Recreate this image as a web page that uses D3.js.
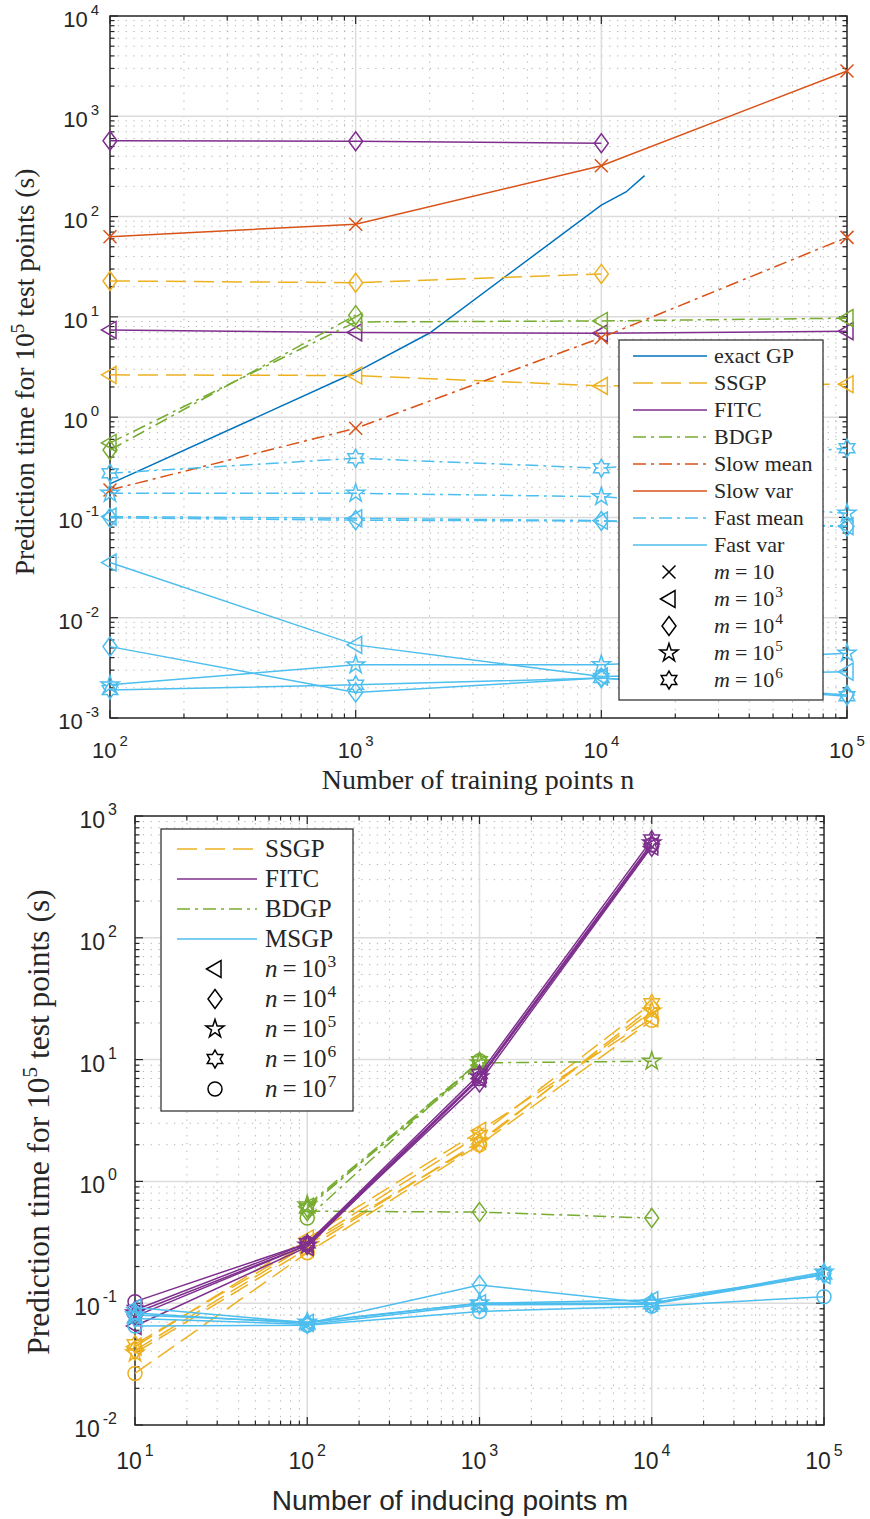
<!DOCTYPE html>
<html>
<head>
<meta charset="utf-8">
<script src="https://cdn.jsdelivr.net/npm/d3@7"></script>
<style>
  body { margin: 0; background: #fff; }
  text { fill: #262626; }
  .serif { font-family: 'Liberation Serif', 'Times New Roman', serif; }
  .sans { font-family: 'Liberation Sans', Arial, Helvetica, sans-serif; }
</style>
</head>
<body>
<svg id="fig" width="870" height="1519"></svg>
<script>
// ---------------- Top panel: prediction time vs. number of training points n ----------------
const trainN = [1e2, 1e3, 1e4, 1e5];

// exact GP (no markers, denser sampling in n)
const exactN = [100, 1000, 2000, 10000, 12600, 15000];
const exactT = [0.216, 2.8, 6.9, 130, 176, 256];

// per-method timings at n = 1e2, 1e3, 1e4, 1e5 (null = not run)
const ssgpM3     = [2.64, 2.60, 2.05, 2.13];
const ssgpM4     = [22.8, 21.9, 26.8, null];
const fitcM3     = [7.4, 7.0, 6.86, 7.2];
const fitcM4     = [571, 563, 538, null];
const bdgpM3     = [0.553, 8.9, 9.1, 9.7];
const bdgpM4     = [0.47, 10.4, null, null];
const slowMeanM1 = [0.188, 0.774, 6.2, 62];
const slowVarM1  = [63, 84, 321, 2830];
const fastMeanM3 = [0.102, 0.098, 0.093, 0.082];
const fastMeanM4 = [0.099, 0.094, 0.092, 0.081];
const fastMeanM5 = [0.174, 0.174, 0.161, 0.11];
const fastMeanM6 = [0.276, 0.389, 0.31, 0.49];
const fastVarM3  = [0.0355, 0.00536, 0.0026, 0.0029];
const fastVarM4  = [0.00515, 0.0018, 0.0025, 0.0017];
const fastVarM5  = [0.00214, 0.00339, 0.0034, 0.00443];
const fastVarM6  = [0.0019, 0.00214, 0.0025, 0.00165];

const topLegendMethods = ["exact GP", "SSGP", "FITC", "BDGP", "Slow mean", "Slow var", "Fast mean", "Fast var"];
const topLegendM = ["10", "3", "4", "5", "6"];

// ---------------- Bottom panel: prediction time vs. number of inducing points m ----------------
const inducingM = [1e1, 1e2, 1e3, 1e4, 1e5];

const ssgpN3 = [0.044, 0.34, 2.6, 21.9, null];
const ssgpN4 = [0.041, 0.30, 2.05, 26.8, null];
const ssgpN5 = [0.039, 0.28, 2.13, 25, null];
const ssgpN6 = [0.046, 0.31, 2.4, 29, null];
const ssgpN7 = [0.0265, 0.26, 2.0, 21, null];

const fitcN3 = [0.065, 0.29, 7.0, 563, null];
const fitcN4 = [0.078, 0.30, 6.5, 560, null];
const fitcN5 = [0.083, 0.30, 7.2, 600, null];
const fitcN6 = [0.088, 0.31, 7.6, 640, null];
const fitcN7 = [0.103, 0.31, 7.0, 580, null];

const bdgpN3 = [null, 0.62, 9.0, null, null];
const bdgpN4 = [null, 0.57, 0.56, 0.50, null];
const bdgpN5 = [null, 0.64, 9.4, 9.7, null];
const bdgpN6 = [null, 0.60, 9.7, null, null];
const bdgpN7 = [null, 0.50, 9.8, null, null];

const msgpN3 = [0.092, 0.069, 0.10, 0.106, 0.17];
const msgpN4 = [0.083, 0.068, 0.141, 0.10, 0.175];
const msgpN5 = [0.080, 0.070, 0.10, 0.10, 0.18];
const msgpN6 = [0.075, 0.067, 0.097, 0.098, 0.172];
const msgpN7 = [0.065, 0.066, 0.0855, 0.0946, 0.113];

const botLegendMethods = ["SSGP", "FITC", "BDGP", "MSGP"];
const botLegendN = ["3", "4", "5", "6", "7"];

// ---------------- styles ----------------
const COL = { blue: "#0072BD", orange: "#D95319", yellow: "#EDB120", purple: "#7E2F8E", green: "#77AC30", cyan: "#4DBEEE" };
const DASH = { solid: null, dashed: "20,8", dashdot: "13,5,3,5" };
const AXIS = "#262626";

const methodStyle = {
  exact:    { color: COL.blue,   dash: "solid" },
  ssgp:     { color: COL.yellow, dash: "dashed" },
  fitc:     { color: COL.purple, dash: "solid" },
  bdgp:     { color: COL.green,  dash: "dashdot" },
  slowMean: { color: COL.orange, dash: "dashdot" },
  slowVar:  { color: COL.orange, dash: "solid" },
  fastMean: { color: COL.cyan,   dash: "dashdot" },
  fastVar:  { color: COL.cyan,   dash: "solid" },
  msgp:     { color: COL.cyan,   dash: "solid" }
};

function starPath(points, R, r) {
  const p = d3.path();
  for (let i = 0; i < points * 2; i++) {
    const a = -Math.PI / 2 + i * Math.PI / points;
    const rad = i % 2 === 0 ? R : r;
    const x = rad * Math.cos(a), y = rad * Math.sin(a);
    if (i === 0) p.moveTo(x, y); else p.lineTo(x, y);
  }
  p.closePath();
  return p.toString();
}
function markerD(type) {
  switch (type) {
    case "x":    return "M-6.5,-6.5L6.5,6.5M-6.5,6.5L6.5,-6.5";
    case "tri":  return "M-8.5,0L6,-8.5L6,8.5Z";
    case "dia":  return "M0,-9.5L7,0L0,9.5L-7,0Z";
    case "pent": return starPath(5, 9.5, 9.5 * 0.382);
    case "hex":  return starPath(6, 9, 9 / Math.sqrt(3));
    case "circ": { const p = d3.path(); p.arc(0, 0, 7, 0, 2 * Math.PI); return p.toString(); }
  }
}

const svg = d3.select("#fig");

// ---------------- generic log-log panel ----------------
function drawPanel(cfg) {
  const { x, y, g } = cfg;
  const [x0, x1] = x.range(), [y0, y1] = y.range(); // y0 bottom, y1 top
  const xd = x.domain().map(Math.log10), yd = y.domain().map(Math.log10);

  const minorVals = (lo, hi) => {
    const out = [];
    for (let e = lo; e < hi; e++) for (let k = 2; k <= 9; k++) out.push(k * Math.pow(10, e));
    return out;
  };
  const majorVals = (lo, hi) => d3.range(lo, hi + 1).map(e => Math.pow(10, e));

  const xMinor = minorVals(xd[0], xd[1]), yMinor = minorVals(yd[0], yd[1]);
  const xMajor = majorVals(xd[0], xd[1]), yMajor = majorVals(yd[0], yd[1]);

  // minor grid (dotted)
  const grid = g.append("g");
  grid.selectAll(".mgx").data(xMinor).join("line")
    .attr("x1", d => x(d)).attr("x2", d => x(d)).attr("y1", y0).attr("y2", y1)
    .attr("stroke", "#b4b4b4").attr("stroke-width", 1).attr("stroke-dasharray", "1.3,6.5");
  grid.selectAll(".mgy").data(yMinor).join("line")
    .attr("y1", d => y(d)).attr("y2", d => y(d)).attr("x1", x0).attr("x2", x1)
    .attr("stroke", "#b4b4b4").attr("stroke-width", 1).attr("stroke-dasharray", "1.3,6.5");
  // major grid
  grid.selectAll(".Mgx").data(xMajor.slice(1, -1)).join("line")
    .attr("x1", d => x(d)).attr("x2", d => x(d)).attr("y1", y0).attr("y2", y1)
    .attr("stroke", "#dcdcdc").attr("stroke-width", 1.5);
  grid.selectAll(".Mgy").data(yMajor.slice(1, -1)).join("line")
    .attr("y1", d => y(d)).attr("y2", d => y(d)).attr("x1", x0).attr("x2", x1)
    .attr("stroke", "#dcdcdc").attr("stroke-width", 1.5);

  // inward ticks on all four sides
  const ax = g.append("g").attr("stroke", AXIS).attr("stroke-width", 1.2);
  const tick = (vals, len, horiz) => {
    vals.forEach(v => {
      if (horiz) {
        const px = x(v);
        ax.append("line").attr("x1", px).attr("x2", px).attr("y1", y0).attr("y2", y0 - len);
        ax.append("line").attr("x1", px).attr("x2", px).attr("y1", y1).attr("y2", y1 + len);
      } else {
        const py = y(v);
        ax.append("line").attr("y1", py).attr("y2", py).attr("x1", x0).attr("x2", x0 + len);
        ax.append("line").attr("y1", py).attr("y2", py).attr("x1", x1).attr("x2", x1 - len);
      }
    });
  };
  tick(xMinor, 4.5, true); tick(xMajor, 8, true);
  tick(yMinor, 4.5, false); tick(yMajor, 8, false);
  ax.append("rect").attr("x", x0).attr("y", y1).attr("width", x1 - x0).attr("height", y0 - y1)
    .attr("fill", "none").attr("stroke-width", 1.5);

  // tick labels "10^e"
  const lab = cfg.tickLabel;
  xMajor.forEach(v => {
    const e = Math.round(Math.log10(v));
    const t = g.append("text").attr("class", "sans").attr("x", x(v)).attr("y", lab.xBase)
      .attr("text-anchor", "middle").attr("font-size", lab.size);
    t.append("tspan").text("10");
    t.append("tspan").attr("dx", 3).attr("dy", -lab.rise).attr("font-size", lab.supSize).text(String(e));
  });
  yMajor.forEach(v => {
    const e = Math.round(Math.log10(v));
    const t = g.append("text").attr("class", "sans").attr("x", lab.yRight).attr("y", y(v) + lab.yOff)
      .attr("text-anchor", "end").attr("font-size", lab.size);
    t.append("tspan").text("10");
    t.append("tspan").attr("dx", 3).attr("dy", -lab.rise).attr("font-size", lab.supSize).text(String(e));
  });

  // data series
  const dataG = g.append("g");
  cfg.series.forEach(s => {
    const st = methodStyle[s.method];
    const pts = s.xs.map((xv, i) => ({ x: xv, t: s.ts[i] }));
    const line = d3.line().defined(d => d.t != null).x(d => x(d.x)).y(d => y(d.t));
    dataG.append("path").attr("d", line(pts)).attr("fill", "none")
      .attr("stroke", st.color).attr("stroke-width", 1.5)
      .attr("stroke-dasharray", DASH[st.dash]);
    if (s.marker) {
      dataG.selectAll(null).data(pts.filter(d => d.t != null)).join("path")
        .attr("d", markerD(s.marker))
        .attr("transform", d => `translate(${x(d.x)},${y(d.t)})`)
        .attr("fill", "none").attr("stroke", st.color).attr("stroke-width", 1.5);
    }
  });
}

// legend helper
function drawLegend(g, L) {
  g.append("rect").attr("x", L.x).attr("y", L.y).attr("width", L.w).attr("height", L.h)
    .attr("fill", "#fff").attr("stroke", AXIS).attr("stroke-width", 1.2);
  L.lines.forEach((it, i) => {
    const cy = L.y0 + i * L.dy;
    const st = methodStyle[it.method];
    g.append("line").attr("x1", L.sx0).attr("x2", L.sx1).attr("y1", cy).attr("y2", cy)
      .attr("stroke", st.color).attr("stroke-width", 1.5).attr("stroke-dasharray", DASH[st.dash]);
    g.append("text").attr("class", "serif").attr("x", L.tx).attr("y", cy + L.base)
      .attr("font-size", L.size).text(it.label);
  });
  L.marks.forEach((it, j) => {
    const cy = L.y0 + (L.lines.length + j) * L.dy;
    g.append("path").attr("d", markerD(it.marker)).attr("transform", `translate(${L.mx},${cy})`)
      .attr("fill", "none").attr("stroke", "#000").attr("stroke-width", 1.5);
    const t = g.append("text").attr("class", "serif").attr("x", L.tx).attr("y", cy + L.base)
      .attr("font-size", L.size);
    t.append("tspan").attr("font-style", "italic").text(L.sym);
    t.append("tspan").attr("dx", 5).text("=");
    t.append("tspan").attr("dx", 5).text("10");
    if (it.exp) t.append("tspan").attr("dx", 1).attr("dy", -L.size * 0.42)
      .attr("font-size", L.size * 0.7).text(it.exp);
  });
}

// ---------------- top panel ----------------
{
  const g = svg.append("g");
  const x = d3.scaleLog().domain([1e2, 1e5]).range([110, 847]);
  const y = d3.scaleLog().domain([1e-3, 1e4]).range([718, 16]);
  const S = (method, ts, marker) => ({ method, xs: trainN, ts, marker });
  drawPanel({
    g, x, y,
    tickLabel: { size: 22, supSize: 15, rise: 12, xBase: 758, yRight: 99, yOff: 11 },
    series: [
      { method: "exact", xs: exactN, ts: exactT, marker: null },
      S("ssgp", ssgpM3, "tri"), S("ssgp", ssgpM4, "dia"),
      S("fitc", fitcM3, "tri"), S("fitc", fitcM4, "dia"),
      S("bdgp", bdgpM3, "tri"), S("bdgp", bdgpM4, "dia"),
      S("slowMean", slowMeanM1, "x"), S("slowVar", slowVarM1, "x"),
      S("fastMean", fastMeanM3, "tri"), S("fastMean", fastMeanM4, "dia"),
      S("fastMean", fastMeanM5, "pent"), S("fastMean", fastMeanM6, "hex"),
      S("fastVar", fastVarM3, "tri"), S("fastVar", fastVarM4, "dia"),
      S("fastVar", fastVarM5, "pent"), S("fastVar", fastVarM6, "hex")
    ]
  });
  const methodKeys = ["exact", "ssgp", "fitc", "bdgp", "slowMean", "slowVar", "fastMean", "fastVar"];
  const markerKeys = ["x", "tri", "dia", "pent", "hex"];
  drawLegend(g, {
    x: 619, y: 340, w: 204, h: 360, y0: 356, dy: 27, sx0: 633, sx1: 707, tx: 714, mx: 669,
    size: 22, base: 7, sym: "m",
    lines: topLegendMethods.map((l, i) => ({ label: l, method: methodKeys[i] })),
    marks: topLegendM.map((e, i) => ({ marker: markerKeys[i], exp: e === "10" ? null : e }))
  });
  // axis titles
  g.append("text").attr("class", "serif").attr("x", 478).attr("y", 789).attr("text-anchor", "middle")
    .attr("font-size", 28).text("Number of training points n");
  const yl = g.append("text").attr("class", "serif").attr("transform", "translate(34,372) rotate(-90)")
    .attr("text-anchor", "middle").attr("font-size", 27.5);
  yl.append("tspan").text("Prediction time for 10");
  yl.append("tspan").attr("dy", -10).attr("font-size", 19).text("5");
  yl.append("tspan").attr("dy", 10).text(" test points (s)");
}

// ---------------- bottom panel ----------------
{
  const g = svg.append("g");
  const x = d3.scaleLog().domain([1e1, 1e5]).range([135, 824]);
  const y = d3.scaleLog().domain([1e-2, 1e3]).range([1425, 816]);
  const S = (method, ts, marker) => ({ method, xs: inducingM, ts, marker });
  drawPanel({
    g, x, y,
    tickLabel: { size: 23, supSize: 16, rise: 13, xBase: 1469, yRight: 117, yOff: 12 },
    series: [
      S("ssgp", ssgpN3, "tri"), S("ssgp", ssgpN4, "dia"), S("ssgp", ssgpN5, "pent"),
      S("ssgp", ssgpN6, "hex"), S("ssgp", ssgpN7, "circ"),
      S("bdgp", bdgpN3, "tri"), S("bdgp", bdgpN4, "dia"), S("bdgp", bdgpN5, "pent"),
      S("bdgp", bdgpN6, "hex"), S("bdgp", bdgpN7, "circ"),
      S("fitc", fitcN3, "tri"), S("fitc", fitcN4, "dia"), S("fitc", fitcN5, "pent"),
      S("fitc", fitcN6, "hex"), S("fitc", fitcN7, "circ"),
      S("msgp", msgpN3, "tri"), S("msgp", msgpN4, "dia"), S("msgp", msgpN5, "pent"),
      S("msgp", msgpN6, "hex"), S("msgp", msgpN7, "circ")
    ]
  });
  const methodKeys = ["ssgp", "fitc", "bdgp", "msgp"];
  const markerKeys = ["tri", "dia", "pent", "hex", "circ"];
  drawLegend(g, {
    x: 161, y: 829, w: 192, h: 282, y0: 849, dy: 30, sx0: 177, sx1: 257, tx: 265, mx: 215,
    size: 25, base: 8, sym: "n",
    lines: botLegendMethods.map((l, i) => ({ label: l, method: methodKeys[i] })),
    marks: botLegendN.map((e, i) => ({ marker: markerKeys[i], exp: e }))
  });
  g.append("text").attr("class", "sans").attr("x", 450).attr("y", 1510).attr("text-anchor", "middle")
    .attr("font-size", 28).text("Number of inducing points m");
  const yl = g.append("text").attr("class", "serif").attr("transform", "translate(49,1122) rotate(-90)")
    .attr("text-anchor", "middle").attr("font-size", 31.5);
  yl.append("tspan").text("Prediction time for 10");
  yl.append("tspan").attr("dy", -12).attr("font-size", 21).text("5");
  yl.append("tspan").attr("dy", 12).text(" test points (s)");
}
</script>
</body>
</html>
